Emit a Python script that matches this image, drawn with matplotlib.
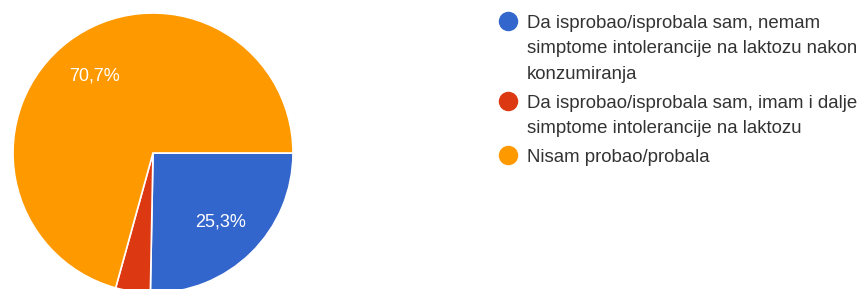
import matplotlib.pyplot as plt
from matplotlib.lines import Line2D

plt.rcParams['font.family'] = ['Liberation Sans', 'DejaVu Sans']

# podaci
categories = [
    'Da isprobao/isprobala sam, nemam\nsimptome intolerancije na laktozu nakon\nkonzumiranja',
    'Da isprobao/isprobala sam, imam i dalje\nsimptome intolerancije na laktozu',
    'Nisam probao/probala',
]
shares = [25.3, 4.0, 70.7]
colors = ['#3366CC', '#DC3912', '#FF9900']

W, H = 863, 289
fig = plt.figure(figsize=(W / 100, H / 100), dpi=100)

# pita
ax = fig.add_axes([13 / W, -4 / H, 280 / W, 280 / H])
wedges, texts, autotexts = ax.pie(
    shares, colors=colors, startangle=0, counterclock=False,
    autopct=lambda p: f'{p:.1f}%'.replace('.', ',') if p > 10 else '',
    pctdistance=0.69, radius=1,
    wedgeprops=dict(edgecolor='white', linewidth=1.2),
    textprops=dict(color='white', fontsize=13),
)
ax.set_xlim(-1, 1)
ax.set_ylim(-1, 1)
ax.set_aspect('equal')

# legenda
marker_y = [21, 101, 155]
for label, color, ym in zip(categories, colors, marker_y):
    fig.add_artist(Line2D([508 / W], [1 - ym / H], marker='o', markersize=13,
                          color=color, linestyle='none',
                          transform=fig.transFigure))
    fig.text(527 / W, 1 - (ym - 6) / H, label, fontsize=13.4, color='#333333',
             va='top', ha='left', linespacing=1.64)

fig.savefig('out.png', dpi=100)
